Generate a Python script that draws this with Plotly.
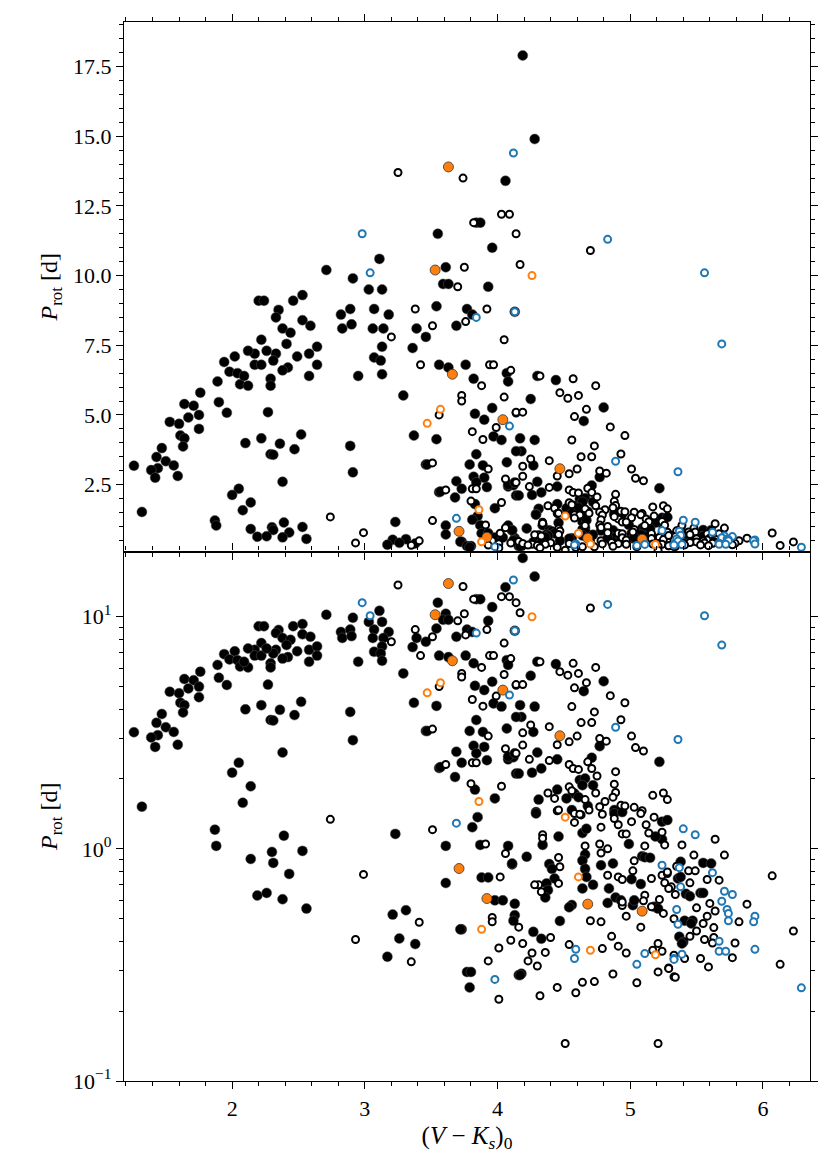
import plotly.graph_objects as go
from plotly.subplots import make_subplots

# (V-Ks)_0 colour and rotation period [d] for each group of stars
black_x = [2.71, 2.91, 2.20, 2.24, 2.35, 2.46, 2.53, 2.53, 2.59, 2.82, 2.83, 2.89, 2.90, 2.95, 2.33, 2.38,
           2.44, 2.41, 2.42, 2.49, 2.38, 2.33, 2.31, 2.29, 2.29, 2.22, 2.17, 2.17, 2.22, 2.12, 2.26, 2.58,
           2.64, 2.64, 2.58, 2.27, 1.94, 1.98, 2.02, 2.04, 2.06, 2.12, 2.09, 1.89, 1.90, 1.96, 1.76, 1.64,
           1.71, 1.67, 1.75, 1.75, 1.53, 1.60, 1.61, 1.64, 1.63, 1.47, 1.43, 1.50, 1.44, 1.39, 1.56, 1.42,
           1.59, 1.26, 1.32, 2.10, 2.22, 2.36, 2.52, 2.47, 2.29, 2.31, 2.89, 2.91, 2.38, 2.05, 2.00, 2.14,
           2.08, 1.87, 1.88, 2.39, 2.14, 2.30, 2.53, 2.31, 2.43, 2.19, 2.26, 2.38, 2.56,
           4.06, 3.11, 3.03, 3.13, 3.07, 3.06, 3.18, 3.14, 3.13, 3.07, 3.12, 3.13, 3.29, 3.55, 3.61, 3.59,
           3.63, 3.54, 3.39, 3.46, 3.36, 3.56, 3.63, 3.69, 3.77, 3.81, 3.93, 3.96, 3.84, 3.87, 4.13, 3.76,
           3.82, 4.07, 4.08, 3.96, 3.83, 3.90, 3.97, 4.03, 3.37, 3.54, 3.46, 3.47, 3.84, 3.79, 3.89, 4.07,
           3.82, 3.90, 3.84, 3.69, 3.73, 3.92, 3.56, 3.57, 3.68, 4.08, 4.12, 4.14, 3.83, 3.98, 3.85,
           3.81, 3.23, 3.61, 3.87, 4.08, 4.11, 3.88, 3.93, 3.61, 3.98, 4.04, 4.13, 4.13, 4.12, 3.21, 3.31,
           3.73, 3.72, 3.26, 3.38, 3.17, 3.77, 3.80, 3.79, 4.16,
           4.19, 4.28, 4.30, 4.44, 4.25, 4.65, 4.80, 4.17, 4.28, 4.18, 4.14, 4.27, 4.77, 5.22, 4.30, 4.08,
           4.13, 4.33, 4.45, 4.16, 4.26, 4.71, 4.62, 4.66, 4.64, 4.72, 4.45, 4.58, 4.31, 4.52, 4.61, 4.68,
           4.29, 4.56, 4.88,
           4.29, 4.64, 4.67, 4.46, 4.34, 4.88, 4.94, 5.24, 5.28, 5.24, 5.19, 4.99, 5.09, 5.11, 5.15, 4.66,
           4.64, 4.39, 4.41, 4.78, 4.87, 4.66, 4.67, 5.01, 5.08, 4.43, 4.37, 4.38, 4.36, 4.11, 4.22, 4.64,
           4.72, 4.84, 4.89, 4.93, 5.02, 5.03, 4.83, 5.18, 5.21, 4.56, 4.54, 4.47, 4.27, 4.33, 4.18, 4.17,
           5.55, 5.61, 5.38, 5.36, 5.38, 5.42, 5.45, 5.53, 5.55, 5.41, 5.47, 5.46, 5.37, 5.40, 5.39]
black_p = [10.2, 9.9, 9.1, 9.1, 8.77, 9.1, 9.3, 8.4, 8.2, 8.6, 8.1, 8.8, 8.25, 6.4, 8.5, 8.1,
           7.95, 7.55, 6.7, 7.1, 6.6, 7.2, 6.95, 6.3, 6.05, 7.7, 7.2, 6.8, 6.8, 7.3, 7.3, 7.2,
           7.45, 6.8, 6.4, 5.1, 6.9, 6.55, 7.1, 6.5, 6.1, 6.05, 6.4, 6.2, 5.46, 5.08, 5.8, 5.39,
           5.33, 4.91, 5.0, 4.5, 4.75, 4.68, 4.26, 4.16, 3.87, 3.81, 3.49, 3.34, 3.09, 3.02, 3.19, 2.75,
           2.81, 3.18, 1.52, 3.99, 4.16, 3.97, 4.3, 3.77, 3.59, 3.57, 3.89, 2.94, 2.6, 2.35, 2.13, 1.86,
           1.58, 1.21, 1.03, 1.14, 0.905, 0.97, 0.98, 0.87, 0.78, 0.63, 0.646, 0.607, 0.553,
           13.4, 10.6, 9.5, 9.5, 8.8, 8.1, 8.6, 8.1, 7.45, 7.06, 6.95, 6.46, 5.7, 11.5, 10.3, 9.7,
           9.7, 8.9, 8.1, 7.8, 7.4, 6.8, 6.7, 8.2, 8.8, 8.6, 9.6, 11.0, 11.9, 11.9, 8.7, 6.8,
           6.3, 6.5, 6.2, 5.25, 5.04, 4.83, 4.23, 4.1, 4.26, 4.13, 3.22, 3.22, 3.59, 3.22, 3.19, 3.3,
           2.78, 2.75, 2.58, 2.62, 2.35, 2.41, 2.23, 2.25, 2.04, 2.43, 2.48, 2.11, 1.8, 1.65, 1.37,
           1.24, 1.16, 1.03, 1.04, 1.03, 0.857, 0.753, 0.753, 0.713, 0.6, 0.6, 0.58, 0.518, 0.49, 0.521, 0.544,
           0.45, 0.45, 0.411, 0.389, 0.343, 0.295, 0.295, 0.253, 0.286,
           17.9, 14.9, 6.4, 6.25, 5.57, 4.78, 5.27, 4.16, 4.1, 3.7, 3.7, 3.19, 2.77, 2.37, 2.6, 2.5,
           2.58, 2.22, 2.43, 2.11, 2.13, 2.47, 1.98, 2.01, 1.88, 1.88, 1.8, 1.73, 1.63, 1.65, 1.67, 1.53,
           1.44, 1.47, 1.47,
           1.42, 1.17, 1.22, 1.13, 1.04, 1.42, 1.44, 1.31, 1.33, 1.1, 1.13, 1.05, 0.93, 0.92, 0.915, 0.945,
           0.89, 0.86, 0.82, 0.85, 0.865, 0.82, 0.757, 0.74, 0.705, 0.745, 0.71, 0.664, 0.617, 0.865, 0.925, 0.675,
           0.7, 0.675, 0.617, 0.6, 0.572, 0.6, 0.585, 0.563, 0.553, 0.573, 0.56, 0.489, 0.439, 0.41, 0.29, 0.286,
           0.87, 0.865, 0.88, 0.745, 0.757, 0.64, 0.625, 0.646, 0.646, 0.49, 0.49, 0.477, 0.418, 0.397, 0.391]

open_x = [2.74, 2.93,
          3.25, 3.74, 3.20, 3.38, 3.51, 3.42, 3.70, 3.75, 3.76, 3.82, 4.03, 4.09, 4.14, 3.92, 4.05, 3.88,
          3.73, 3.73, 3.94, 3.97, 4.10, 4.05, 3.99, 3.81, 3.89, 4.14, 3.56, 3.51, 3.93, 4.06, 3.81, 3.84,
          3.61, 3.80, 4.03,
          3.51, 3.91, 4.06, 4.02, 3.96, 3.96, 3.41, 3.35, 4.10, 4.01, 3.93, 4.01, 2.99,
          4.17, 4.70, 4.32, 4.57, 4.74, 4.47, 4.53, 4.61, 4.14, 4.19, 4.58, 4.67, 4.85, 4.96, 4.56, 4.73,
          4.63, 4.71, 4.93, 4.25, 4.39, 4.19, 4.54, 4.60, 4.45, 4.77, 4.82, 5.01, 5.04, 5.10, 4.19, 4.14,
          4.24, 4.39, 4.54, 4.68, 4.57, 4.61, 4.71, 4.89, 4.75, 4.88, 4.54, 4.56, 4.38, 4.43, 4.74, 4.89,
          4.66, 4.81, 4.87, 4.77, 4.45, 4.58, 4.63, 4.93, 4.96, 5.03, 5.09, 5.17, 5.25, 5.28,
          4.46, 4.62, 4.69, 4.79, 4.58, 4.34, 4.34, 4.78, 4.91, 4.88, 4.94, 5.01, 4.97, 5.08, 5.12, 5.18,
          5.14, 5.24, 5.26, 5.11, 4.77, 4.78, 4.83, 4.66, 4.46, 4.47, 4.83, 4.91, 4.94, 5.03, 5.02, 5.16,
          5.24, 5.28, 5.31, 5.26, 4.31, 4.28, 4.33, 4.46, 4.94, 4.94, 5.11, 5.10, 5.22, 5.16, 5.25, 4.16,
          4.70, 4.78, 4.97, 5.08, 4.40, 4.19, 4.26, 4.23, 4.30, 4.36, 4.54, 4.79, 4.86, 4.91, 4.97,
          5.17, 5.21, 5.24, 5.21, 5.29, 5.33, 4.87, 5.05, 4.64, 4.73, 4.59, 4.45, 4.32, 4.51, 5.21,
          5.64, 5.39, 5.48, 5.71, 5.28, 5.35, 5.44, 5.49, 5.58, 5.67, 5.45, 5.29, 5.34, 5.60, 5.64, 5.88,
          5.50, 5.82, 5.58, 5.33, 5.55, 5.63, 5.50, 5.45, 5.56, 5.63, 5.62, 5.79, 5.77, 6.23, 6.07, 6.13,
          5.53, 5.59, 5.41, 5.33, 5.29, 5.34]
open_p = [1.34, 0.407,
          13.7, 13.5, 7.8, 8.8, 8.2, 6.8, 9.6, 10.3, 8.35, 11.9, 12.2, 12.2, 11.5, 8.8, 7.7, 6.05,
          5.7, 5.5, 6.8, 6.8, 6.6, 5.64, 4.55, 4.4, 4.12, 5.07, 5.0, 3.28, 3.06, 2.7, 2.35, 2.35,
          2.31, 1.91, 1.86,
          1.21, 1.05, 0.955, 0.757, 0.506, 0.485, 0.483, 0.326, 0.404, 0.374, 0.329, 0.225, 0.776,
          10.4, 10.9, 6.4, 6.3, 6.05, 5.8, 5.6, 5.7, 5.1, 5.1, 4.94, 5.2, 4.57, 4.26, 4.1, 3.89,
          3.5, 3.5, 3.6, 3.42, 3.36, 3.16, 2.89, 3.06, 2.81, 2.99, 2.91, 3.06, 2.73, 2.64, 2.8, 2.58,
          2.43, 2.4, 2.31, 2.37, 2.22, 2.2, 2.22, 2.15, 2.06, 1.9, 1.85, 1.78, 1.74, 1.65, 1.74, 1.75,
          1.63, 1.6, 1.67, 1.52, 1.46, 1.42, 1.4, 1.54, 1.53, 1.51, 1.46, 1.7, 1.74, 1.63,
          1.47, 1.41, 1.47, 1.41, 1.3, 1.15, 1.11, 1.24, 1.27, 1.35, 1.16, 1.31, 1.16, 1.42, 1.27, 1.37,
          1.17, 1.18, 1.04, 1.03, 1.05, 0.96, 1.0, 1.03, 0.918, 0.837, 0.77, 0.757, 0.738, 0.888, 0.804, 0.745,
          0.77, 0.783, 0.686, 0.714, 0.7, 0.7, 0.653, 0.71, 0.57, 0.59, 0.632, 0.597, 0.605, 0.563, 0.527, 0.46,
          0.49, 0.485, 0.513, 0.46, 0.415, 0.391, 0.356, 0.329, 0.313, 0.358, 0.387, 0.372, 0.42, 0.381, 0.356,
          0.366, 0.391, 0.362, 0.295, 0.307, 0.281, 0.289, 0.265, 0.266, 0.268, 0.24, 0.253, 0.233, 0.145, 0.145,
          1.1, 1.04, 0.94, 0.94, 0.795, 0.842, 0.804, 0.804, 0.738, 0.733, 0.714, 0.675, 0.636, 0.582, 0.54, 0.578,
          0.557, 0.485, 0.513, 0.5, 0.477, 0.458, 0.443, 0.42, 0.407, 0.415, 0.393, 0.393, 0.34, 0.443, 0.765, 0.318,
          0.337, 0.31, 0.337, 0.348, 0.305, 0.28]

blue_x = [2.98, 3.04, 4.12, 3.84, 4.13, 4.09, 4.83, 4.89, 5.36, 3.69, 3.98, 5.24, 4.59, 4.58, 5.11, 5.05,
          5.33, 5.56, 5.69, 5.40, 5.49, 5.37, 5.62, 5.38, 5.71, 5.77, 5.69, 5.35, 5.73, 5.74, 5.74, 5.94,
          5.93, 5.36, 5.67, 5.67, 5.72, 5.94, 6.29, 5.33, 5.39]
blue_p = [11.5, 10.1, 14.4, 8.5, 8.7, 4.6, 11.3, 3.34, 2.96, 1.29, 0.274, 0.85, 0.369, 0.337, 0.354, 0.318,
          0.337, 10.1, 7.55, 1.22, 1.15, 0.83, 0.79, 0.686, 0.657, 0.636, 0.595, 0.548, 0.548, 0.527, 0.49, 0.513,
          0.485, 0.473, 0.4, 0.362, 0.362, 0.369, 0.252, 0.334, 0.352]

orange_fill_x = [3.63, 3.53, 3.66, 4.04, 4.47, 3.71, 3.92, 4.68, 5.09]
orange_fill_p = [13.9, 10.2, 6.46, 4.83, 3.07, 0.823, 0.611, 0.578, 0.539]

orange_open_x = [3.57, 3.47, 4.26, 3.86, 3.88, 4.51, 4.61, 4.70, 5.19]
orange_open_p = [5.2, 4.7, 10.0, 1.6, 0.45, 1.37, 0.757, 0.366, 0.35]

FONT = "Liberation Serif"

fig = make_subplots(rows=2, cols=1, shared_xaxes=True, vertical_spacing=0)

groups = [
    (black_x, black_p, dict(size=10, color="black", line=dict(color="#555555", width=0.5))),
    (open_x, open_p, dict(size=7, color="white", line=dict(color="black", width=2))),
    (orange_fill_x, orange_fill_p, dict(size=10, color="#ff7f0e", line=dict(color="#333333", width=0.8))),
    (orange_open_x, orange_open_p, dict(size=7, color="white", line=dict(color="#ff7f0e", width=2))),
    (blue_x, blue_p, dict(size=7, color="white", line=dict(color="#1f77b4", width=2))),
]

for row in (1, 2):
    for gx, gp, marker in groups:
        fig.add_trace(go.Scatter(x=gx, y=gp, mode="markers", marker=marker,
                                 showlegend=False, hoverinfo="skip"), row=row, col=1)

axis_common = dict(showline=True, linecolor="black", linewidth=1.2, mirror="allticks",
                   ticks="outside", ticklen=7, tickwidth=1.2, tickcolor="black",
                   showgrid=False, zeroline=False,
                   tickfont=dict(family=FONT, size=22, color="black"))

fig.update_xaxes(range=[1.185, 6.355], dtick=1, tick0=0,
                 minor=dict(ticks="outside", ticklen=4, tickwidth=1, tickcolor="black", dtick=0.2),
                 **axis_common)
fig.update_xaxes(title=dict(text="(<i>V</i> − <i>K<sub>s</sub></i>)<sub>0</sub>",
                            font=dict(family=FONT, size=25, color="black"), standoff=6),
                 row=2, col=1)

ytitle = dict(text="<i>P</i><sub>rot</sub> [d]", font=dict(family=FONT, size=24, color="black"), standoff=8)

fig.update_yaxes(range=[0.1, 19.1], tick0=0, dtick=2.5, tickformat=".1f",
                 minor=dict(ticks="outside", ticklen=4, tickwidth=1, tickcolor="black", dtick=0.5),
                 title=ytitle, row=1, col=1, **axis_common)

fig.update_yaxes(type="log", range=[-1, 1.281],
                 tickvals=[0.1, 1, 10], ticktext=["10<sup>−1</sup>", "10<sup>0</sup>", "10<sup>1</sup>"],
                 minor=dict(ticks="outside", ticklen=4, tickwidth=1, tickcolor="black",
                            tickvals=[0.2, 0.3, 0.4, 0.5, 0.6, 0.7, 0.8, 0.9,
                                      2, 3, 4, 5, 6, 7, 8, 9]),
                 title=ytitle, row=2, col=1, **axis_common)

fig.update_layout(width=830, height=1163, margin=dict(l=124, r=18, t=22, b=82),
                  plot_bgcolor="white", paper_bgcolor="white",
                  font=dict(family=FONT, color="black"))

# drop the page's default body margin so the figure sits at the window origin
fig.write_html("out.html", config={"displayModeBar": False},
               post_script="document.body.style.margin='0px';")
